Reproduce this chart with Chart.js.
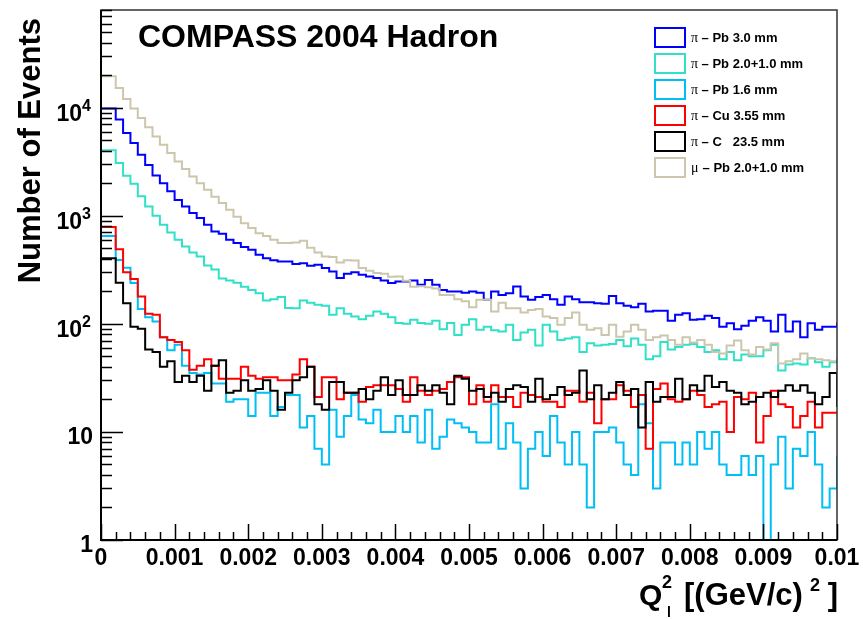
<!DOCTYPE html>
<html lang="en">
<head>
    <meta charset="UTF-8">
    <title>COMPASS 2004 Hadron</title>
    <style>
        body { margin: 0; background: #fff; }
        canvas { display: block; }
    </style>
</head>
<body>
    <canvas id="myChart" width="863" height="619"></canvas>

    <script src="https://cdn.jsdelivr.net/npm/chart.js"></script>

    <script>
        // bins: 100 bins of 0.0001 from 0 to 0.01
        const binWidth = 0.0001
        const binEdges = Array.from({ length: 101 }, (_, i) => +(i * binWidth).toFixed(4))

        const xTicks = [0, 0.001, 0.002, 0.003, 0.004, 0.005, 0.006, 0.007, 0.008, 0.009, 0.01]
        const xTickLabels = ['0', '0.001', '0.002', '0.003', '0.004', '0.005', '0.006', '0.007', '0.008', '0.009', '0.01']
        const yTicks = [1, 10, 100, 1000, 10000]
        const yTickLabels = ['1', '10', '10^2', '10^3', '10^4']

        const seriesLabels = ['Pb 3.0 mm', 'Pb 2.0+1.0 mm', 'Pb 1.6 mm', 'Cu 3.55 mm', 'C   23.5 mm', 'Pb 2.0+1.0 mm']
        const seriesBeam = ['\u03c0', '\u03c0', '\u03c0', '\u03c0', '\u03c0', '\u03bc']

        // pi - Pb 3.0 mm
        const piPb30 = [
            9800, 7750, 5820, 4700, 3670, 2950, 2360, 2000, 1680, 1400,
            1220, 1060, 955, 826, 716, 681, 600, 558, 513, 484,
            436, 405, 388, 378, 378, 358, 364, 344, 352, 328,
            305, 265, 290, 300, 284, 274, 265, 252, 238, 246,
            246, 252, 230, 254, 230, 206, 199, 199, 194, 199,
            194, 167, 199, 185, 192, 221, 179, 167, 177, 185,
            169, 150, 179, 169, 158, 158, 155, 153, 181, 155,
            147, 142, 153, 130, 132, 132, 107, 121, 125, 109,
            110, 119, 113, 94, 101, 89, 96, 107, 115, 107,
            85, 121, 85, 105, 75, 101, 88, 94, 94, 103
        ]
        // pi - Pb 2.0+1.0 mm
        const piPb21 = [
            4030, 3070, 2345, 1980, 1510, 1220, 1000, 826, 700, 600,
            520, 457, 420, 346, 318, 262, 252, 240, 220, 205,
            192, 164, 169, 177, 140, 139, 164, 157, 150, 147,
            121, 139, 124, 117, 110, 119, 130, 124, 115, 102,
            100, 109, 102, 100, 107, 89, 102, 79, 98, 110,
            88, 94, 87, 85, 98, 71, 83, 88, 63, 98,
            85, 71, 73, 75, 55, 66, 63, 64, 65, 71,
            62, 73, 64, 47, 50, 68, 58, 61, 64, 65,
            61, 55, 57, 47, 55, 46, 52, 50, 50, 57,
            64, 37, 42, 43, 42, 48, 44, 40, 44, 48
        ]
        // pi - Pb 1.6 mm
        const piPb16 = [
            650, 390, 330, 238, 137, 115, 105, 75, 57, 64,
            41, 35, 34, 35, 28, 28, 19, 20, 20, 14,
            23, 23, 14, 17, 22, 22, 11, 14, 7, 5,
            16, 9, 14, 22, 13, 12, 16, 10, 10, 14,
            10, 14, 8, 16, 7, 9, 13, 12, 11, 10,
            8, 8, 18, 7, 12, 8, 3, 7, 10, 6,
            14, 8, 5, 10, 5, 2, 10, 10, 11, 8,
            5, 4, 18, 12, 3, 8, 8, 5, 8, 5,
            10, 7, 10, 5, 4, 4, 6, 4, 6, 1,
            5, 9, 3, 7, 6, 10, 5, 2, 3, 6
        ]
        // pi - Cu 3.55 mm
        const piCu = [
            786, 490, 300, 260, 179, 124, 121, 75, 71, 68,
            57, 37.5, 41, 47, 41, 31, 31, 31, 40, 33,
            31, 32, 32, 30, 30, 34, 47, 40, 21, 32,
            32, 20, 23, 23, 19, 26, 27, 27, 27, 25,
            19, 32, 24, 22, 24, 25, 29, 32, 32, 18,
            27, 19, 27, 21, 21, 17, 23, 22, 21, 19,
            19, 17, 24, 24, 19, 23, 12, 20, 20, 27,
            24, 17, 22, 7, 25, 28, 20, 19, 20, 24,
            22, 17, 18, 19, 10, 21, 20, 23, 8, 14,
            24, 18, 17, 11, 14, 19, 11, 15, 15, 15
        ]
        // pi - C 23.5 mm
        const piC = [
            405, 240, 155, 94, 90, 58, 55, 40, 45, 29,
            33, 29, 33, 24, 41, 46, 23, 24, 30, 24,
            25, 30, 24, 16, 23, 30, 32, 40, 18, 16,
            29, 29, 23, 23, 25, 20, 24, 32, 22, 30,
            22, 22, 27, 24, 27, 23, 18, 33, 31, 24,
            25, 21, 23, 19, 25, 27, 26, 19, 31, 20,
            22, 26, 22, 23, 37, 20, 27, 20, 23, 29,
            22, 25, 11, 29, 19, 21, 21, 31, 20, 27,
            24, 33, 26, 29, 24, 23, 18, 19, 21, 23,
            21, 24, 27, 24, 27, 23, 18, 21, 35, 17
        ]
        // mu - Pb 2.0+1.0 mm
        const muPb21 = [
            19500, 15200, 12000, 9800, 8000, 6600, 5400, 4540, 3800, 3170,
            2700, 2310, 2000, 1740, 1500, 1310, 1135, 980, 850, 770,
            690, 650, 600, 560, 560, 565, 588, 505, 457, 420,
            415, 370, 388, 385, 328, 310, 295, 290, 272, 274,
            250, 220, 222, 218, 212, 185, 185, 169, 162, 142,
            167, 167, 130, 157, 139, 139, 127, 134, 137, 117,
            113, 98, 113, 127, 98, 88, 91, 79, 98, 76,
            85, 98, 88, 71, 75, 78, 71, 64, 75, 67,
            71, 64, 55, 53, 63, 70, 57, 52, 61, 58,
            66, 43, 45, 47, 53, 48, 47, 46, 45, 44
        ]

        const seriesValues = [piPb30, piPb21, piPb16, piCu, piC, muPb21]
        const seriesColors = ['#0000ff', '#30e0c8', '#00bff5', '#ff0000', '#000000', '#ccc6ac']

        const FONT = '"Liberation Sans", Arial, Helvetica, sans-serif'

        // histogram outline: right edge of each bin, starting from the left edge
        function toPoints(values) {
            const pts = [{ x: binEdges[0], y: values[0] }]
            values.forEach((v, i) => pts.push({ x: binEdges[i + 1], y: v }))
            return pts
        }

        const rootStyle = {
            id: 'rootStyle',
            afterDraw(chart) {
                const ctx = chart.ctx
                const xs = chart.scales.x
                const ys = chart.scales.y
                const area = chart.chartArea
                ctx.save()

                // frame
                ctx.strokeStyle = '#333'
                ctx.lineWidth = 1.5
                ctx.strokeRect(area.left, area.top, area.right - area.left, area.bottom - area.top)
                ctx.strokeStyle = '#000'
                ctx.lineWidth = 2
                ctx.beginPath()
                ctx.moveTo(area.left, area.top)
                ctx.lineTo(area.left, area.bottom)
                ctx.lineTo(area.right, area.bottom)
                ctx.stroke()

                // y ticks (log)
                ctx.lineWidth = 1.5
                ctx.beginPath()
                for (let k = 0; k <= 4; k++) {
                    for (let m = 1; m <= 9; m++) {
                        const v = m * Math.pow(10, k)
                        if (v > ys.max) continue
                        const py = Math.round(ys.getPixelForValue(v)) + 0.5
                        const len = m === 1 ? 22 : 11
                        ctx.moveTo(area.left, py)
                        ctx.lineTo(area.left + len, py)
                    }
                }
                // x ticks
                for (let i = 0; i <= 50; i++) {
                    const v = i * 0.0002
                    const px = Math.round(xs.getPixelForValue(v)) + 0.5
                    const len = i % 5 === 0 ? 16 : 8
                    ctx.moveTo(px, area.bottom)
                    ctx.lineTo(px, area.bottom - len)
                }
                ctx.stroke()

                // tick labels
                ctx.fillStyle = '#000'
                ctx.textBaseline = 'alphabetic'
                ctx.font = 'bold 23px ' + FONT
                ctx.textAlign = 'center'
                xTicks.forEach((v, i) => {
                    ctx.fillText(xTickLabels[i], xs.getPixelForValue(v), area.bottom + 25)
                })
                yTicks.forEach((v, i) => {
                    const py = ys.getPixelForValue(v)
                    const [base, exp] = yTickLabels[i].split('^')
                    ctx.font = 'bold 23px ' + FONT
                    ctx.textAlign = 'right'
                    if (exp) {
                        ctx.fillText(base, area.left - 19, py + 13)
                        ctx.font = 'bold 16px ' + FONT
                        ctx.textAlign = 'left'
                        ctx.fillText(exp, area.left - 19, py + 3)
                    } else {
                        ctx.fillText(base, area.left - 8, py + 12)
                    }
                })

                // title
                ctx.font = 'bold 32px ' + FONT
                ctx.textAlign = 'left'
                ctx.fillText('COMPASS 2004 Hadron', 138, 47)

                // y axis title
                ctx.save()
                ctx.translate(40, 18)
                ctx.rotate(-Math.PI / 2)
                ctx.font = 'bold 31px ' + FONT
                ctx.textAlign = 'right'
                ctx.fillText('Number of Events', 0, 0)
                ctx.restore()

                // x axis title: Q_l^2 [(GeV/c)^2 ]
                ctx.textAlign = 'left'
                ctx.font = 'bold 30px ' + FONT
                ctx.fillText('Q', 639, 605)
                ctx.font = 'bold 18px ' + FONT
                ctx.fillText('2', 662, 588)
                ctx.font = 'bold 14px ' + FONT
                ctx.fillText('l', 667, 617)
                ctx.font = 'bold 31px ' + FONT
                ctx.fillText('[(GeV/c)', 684, 605)
                ctx.font = 'bold 18px ' + FONT
                ctx.fillText('2', 810, 591)
                ctx.font = 'bold 31px ' + FONT
                ctx.textAlign = 'right'
                ctx.fillText(']', 838, 605)

                // legend
                seriesLabels.forEach((label, i) => {
                    const top = 28 + i * 26
                    ctx.fillStyle = '#fff'
                    ctx.fillRect(655, top, 30, 19)
                    ctx.strokeStyle = seriesColors[i]
                    ctx.lineWidth = 2
                    ctx.strokeRect(655, top, 30, 19)
                    ctx.fillStyle = '#000'
                    ctx.textBaseline = 'middle'
                    ctx.textAlign = 'left'
                    ctx.font = '14px "Liberation Serif", "DejaVu Serif", serif'
                    ctx.fillText(seriesBeam[i], 691, top + 10)
                    ctx.font = 'bold 13px ' + FONT
                    const w = seriesBeam[i] === '\u03bc' ? 8 : 7
                    ctx.fillText(' \u2013 ' + label, 691 + w, top + 10)
                })
                ctx.restore()
            }
        }

        function displayChart() {
            const ctx = document.getElementById('myChart')
            new Chart(ctx, {
                type: 'line',
                data: {
                    datasets: seriesValues.map((values, i) => ({
                        label: seriesBeam[i] + ' - ' + seriesLabels[i],
                        data: toPoints(values),
                        borderColor: seriesColors[i],
                        borderWidth: 2,
                        stepped: 'before',
                        pointRadius: 0,
                        fill: false,
                        borderJoinStyle: 'miter',
                        order: seriesValues.length - 1 - i
                    }))
                },
                options: {
                    responsive: false,
                    animation: false,
                    layout: { padding: { left: 101, right: 26, top: 10, bottom: 79 } },
                    scales: {
                        x: { type: 'linear', min: 0, max: 0.01, display: false },
                        y: { type: 'logarithmic', min: 1, max: 80000, display: false }
                    },
                    plugins: {
                        legend: { display: false },
                        tooltip: { enabled: false }
                    }
                },
                plugins: [rootStyle]
            })
        }
        displayChart()
    </script>
</body>
</html>
